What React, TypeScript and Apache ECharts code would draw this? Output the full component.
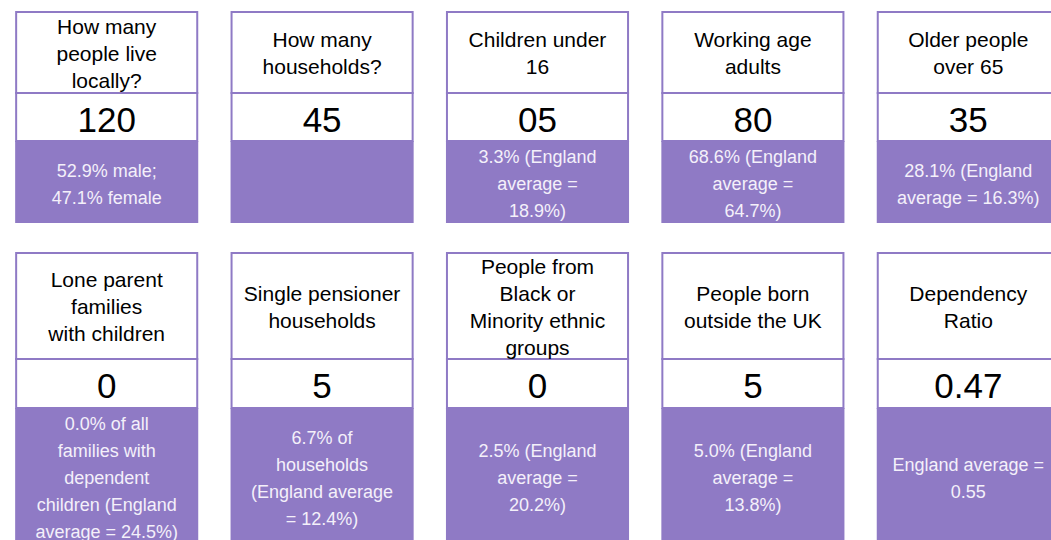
import React, { useEffect, useRef } from "react";
import * as echarts from "echarts";

// ---- data ----
const columns = ["A", "B", "C", "D", "E"];
const titles = [
  "How many\npeople live\nlocally?",
  "How many\nhouseholds?",
  "Children under\n16",
  "Working age\nadults",
  "Older people\nover 65",
  "Lone parent\nfamilies\nwith children",
  "Single pensioner\nhouseholds",
  "People from\nBlack or\nMinority ethnic\ngroups",
  "People born\noutside the UK",
  "Dependency\nRatio",
];
const values = ["120", "45", "05", "80", "35", "0", "5", "0", "5", "0.47"];
const notes = [
  "52.9% male;\n47.1% female",
  "",
  "3.3% (England\naverage =\n18.9%)",
  "68.6% (England\naverage =\n64.7%)",
  "28.1% (England\naverage = 16.3%)",
  "0.0% of all\nfamilies with\ndependent\nchildren (England\naverage = 24.5%)",
  "6.7% of\nhouseholds\n(England average\n= 12.4%)",
  "2.5% (England\naverage =\n20.2%)",
  "5.0% (England\naverage =\n13.8%)",
  "England average =\n0.55",
];

// ---- styles ----
const PURPLE = "#8f7ac5";
const NOTE_COLOR = "#f4f0fa";
const FONT = "Liberation Sans";
const LINE_H = 27;

const lineCount = (s: string) => (s ? s.split("\n").length : 0);

export default function App() {
  const ref = useRef<HTMLDivElement>(null);
  useEffect(() => {
    if (!ref.current) return;
    const chart = echarts.init(ref.current, null, { renderer: "svg" });
    const nCols = columns.length;
    const nRows = Math.ceil(titles.length / nCols);

    // row layout derived from text content
    const rowLayout: { top: number; headerH: number; valueH: number; noteH: number }[] = [];
    let top = 11;
    for (let r = 0; r < nRows; r++) {
      let hl = 0;
      let nl = 0;
      for (let c = 0; c < nCols; c++) {
        const i = r * nCols + c;
        hl = Math.max(hl, lineCount(titles[i]));
        nl = Math.max(nl, lineCount(notes[i]));
      }
      const headerH = hl === 3 ? 82 : hl * 25 + 7;
      const valueH = 48 + r;
      const noteH = nl * LINE_H + 1;
      rowLayout.push({ top, headerH, valueH, noteH });
      top += headerH + valueH + noteH + 29;
    }

    const data = titles.map((_, i) => [i % nCols, Math.floor(i / nCols), i]);

    chart.setOption({
      animation: false,
      grid: { left: -1, width: 1077, top: 0, height: 540, outerBoundsMode: "none", containLabel: false },
      xAxis: { type: "category", data: columns, show: false },
      yAxis: { type: "value", min: 0, max: 1, show: false },
      series: [
        {
          type: "custom",
          clip: false,
          data,
          renderItem: (params: any, api: any) => {
            const col = api.value(0);
            const row = api.value(1);
            const idx = api.value(2);
            const cx = api.coord([col, 0])[0];
            const band = api.size([1, 0])[0];
            const w = band * 0.85;
            const x = cx - w / 2;
            const L = rowLayout[row];
            const vTop = L.top + L.headerH;
            const nTop = vTop + L.valueH;
            return {
              type: "group",
              children: [
                {
                  type: "rect",
                  shape: { x, y: nTop, width: w, height: L.noteH },
                  style: { fill: PURPLE },
                },
                {
                  type: "rect",
                  shape: { x: x + 1, y: L.top + 1, width: w - 2, height: L.headerH - 1 },
                  style: { fill: "#ffffff", stroke: PURPLE, lineWidth: 2 },
                },
                {
                  type: "rect",
                  shape: { x: x + 1, y: vTop, width: w - 2, height: L.valueH },
                  style: { fill: "#ffffff", stroke: PURPLE, lineWidth: 2 },
                },
                {
                  type: "text",
                  style: {
                    text: titles[idx],
                    x: cx,
                    y: L.top + L.headerH / 2 + 1,
                    align: "center",
                    verticalAlign: "middle",
                    fontSize: 21,
                    lineHeight: LINE_H,
                    fontFamily: FONT,
                    fill: "#000000",
                  },
                },
                {
                  type: "text",
                  style: {
                    text: values[idx],
                    x: cx,
                    y: vTop + L.valueH / 2 + 2,
                    align: "center",
                    verticalAlign: "middle",
                    fontSize: 35,
                    fontFamily: FONT,
                    fill: "#000000",
                  },
                },
                {
                  type: "text",
                  style: {
                    text: notes[idx],
                    x: cx,
                    y: nTop + L.noteH / 2 + 2,
                    align: "center",
                    verticalAlign: "middle",
                    fontSize: 18,
                    lineHeight: LINE_H,
                    fontFamily: FONT,
                    fill: NOTE_COLOR,
                  },
                },
              ],
            };
          },
        },
      ],
    });
    return () => chart.dispose();
  }, []);
  return (
    <div
      ref={ref}
      style={{ position: "fixed", left: 0, top: 0, width: 1051, height: 540, background: "#ffffff" }}
    />
  );
}
